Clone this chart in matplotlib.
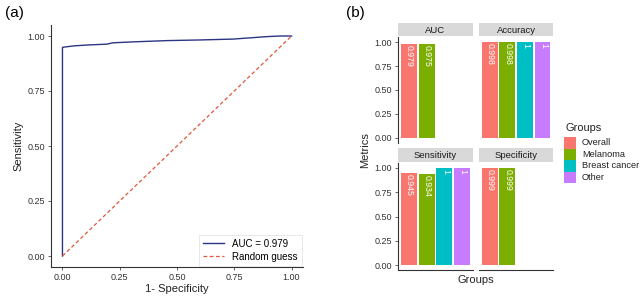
import matplotlib
matplotlib.use("Agg")
import matplotlib.pyplot as plt
import numpy as np

plt.rcParams['font.family'] = ['Liberation Sans', 'DejaVu Sans']

# ---------------- data ----------------
roc_fpr = [0.0, 0.0, 0.01, 0.05, 0.107, 0.194, 0.22, 0.30, 0.455, 0.60, 0.745, 0.89, 0.95, 1.0]
roc_tpr = [0.0, 0.948, 0.950, 0.955, 0.959, 0.963, 0.969, 0.973, 0.979, 0.982, 0.986, 0.997, 1.0, 1.0]
auc_label = "AUC = 0.979"
random_label = "Random guess"

groups = ["Overall", "Melanoma", "Breast cancer", "Other"]
group_colors = ["#F8766D", "#7CAE00", "#00BFC4", "#C77CFF"]
metrics = ["AUC", "Accuracy", "Sensitivity", "Specificity"]
auc_vals = [0.979, 0.975, None, None]
accuracy_vals = [0.998, 0.998, 1, 1]
sensitivity_vals = [0.945, 0.934, 1, 1]
specificity_vals = [0.999, 0.999, None, None]
metric_values = [auc_vals, accuracy_vals, sensitivity_vals, specificity_vals]
yticks = [0.0, 0.25, 0.5, 0.75, 1.0]

W, H = 643, 297
fig = plt.figure(figsize=(W / 100, H / 100), dpi=100)


def px_axes(left, top, right, bottom):
    return fig.add_axes([left / W, 1 - bottom / H, (right - left) / W, (bottom - top) / H])


axis_col = "#333333"
tick_col = "#4d4d4d"

# ---------------- panel (a) ----------------
ax = px_axes(51, 25, 303, 267)
ax.plot(roc_fpr, roc_tpr, color="#2b3583", lw=1.0, label=auc_label)
ax.plot([0, 1], [0, 1], color="#e0593c", lw=0.9, ls=(0, (3, 2)), label=random_label)
ax.set_xlim(-0.05, 1.05)
ax.set_ylim(-0.05, 1.05)
ax.set_xticks(yticks)
ax.set_yticks(yticks)
ax.set_xticklabels([f"{v:.2f}" for v in yticks])
ax.set_yticklabels([f"{v:.2f}" for v in yticks])
for s in ["top", "right"]:
    ax.spines[s].set_visible(False)
for s in ["left", "bottom"]:
    ax.spines[s].set_color(axis_col)
    ax.spines[s].set_linewidth(0.8)
ax.tick_params(labelsize=6.5, colors=tick_col, labelcolor="#333333", length=2.5, width=0.6, pad=2)
ax.set_xlabel("1- Specificity", fontsize=8, labelpad=1, color="#222222")
ax.set_ylabel("Sensitivity", fontsize=8, labelpad=3, color="#222222")
leg = ax.legend(loc="lower right", fontsize=7, frameon=True, fancybox=False,
                handlelength=2.2, borderpad=0.4, labelspacing=0.3,
                borderaxespad=0.15, bbox_to_anchor=(1.0, 0.0))
leg.get_frame().set_edgecolor("#dddddd")
leg.get_frame().set_linewidth(0.6)
fig.text(5 / W, 1 - 13 / H, "(a)", fontsize=11, va="center", ha="left")

# ---------------- panel (b) ----------------
fig.text(346 / W, 1 - 13 / H, "(b)", fontsize=11, va="center", ha="left")
cols = [(398, 473), (479, 553)]
rows = [((23, 36), (37.2, 142.8)), ((148, 161.5), (163, 270))]
xpos = np.arange(1, 5)
for i, metric in enumerate(metrics):
    r, c = divmod(i, 2)
    (sl, sr) = cols[c]
    (st, sb), (pt, pb) = rows[r]
    # strip
    sax = px_axes(sl, st, sr, sb)
    sax.set_facecolor("#d9d9d9")
    sax.set_xticks([])
    sax.set_yticks([])
    for s in sax.spines.values():
        s.set_visible(False)
    sax.text(0.5, 0.45, metric, transform=sax.transAxes, ha="center", va="center",
             fontsize=6.8, color="#1a1a1a")
    pax = px_axes(sl, pt, sr, pb)
    vals = metric_values[i]
    for j, v in enumerate(vals):
        if v is None:
            continue
        pax.bar(xpos[j], v, width=0.9, color=group_colors[j])
        lab = f"{v:g}"
        pax.text(xpos[j] + 0.05, v - 0.01, lab, rotation=-90, ha="center", va="top",
                 fontsize=6.3, color="white")
    pax.set_xlim(0.4, 4.6)
    pax.set_ylim(-0.05, 1.05)
    pax.set_xticks([])
    pax.spines["top"].set_visible(False)
    pax.spines["right"].set_visible(False)
    if c == 0:
        pax.set_yticks(yticks)
        pax.set_yticklabels([f"{v:.2f}" for v in yticks])
        pax.spines["left"].set_color(axis_col)
        pax.spines["left"].set_linewidth(0.8)
        pax.tick_params(axis="y", labelsize=6.5, colors=tick_col, labelcolor="#333333",
                        length=2.5, width=0.6, pad=2)
    else:
        pax.set_yticks([])
        pax.spines["left"].set_visible(False)
    if r == 1:
        pax.spines["bottom"].set_color(axis_col)
        pax.spines["bottom"].set_linewidth(0.8)
    else:
        pax.spines["bottom"].set_visible(False)

fig.text(365 / W, 1 - 150 / H, "Metrics", rotation=90, fontsize=8, ha="center", va="center",
         color="#222222")
fig.text(476 / W, 1 - 280 / H, "Groups", fontsize=8, ha="center", va="center", color="#222222")

# legend
fig.text(565 / W, 1 - 128 / H, "Groups", fontsize=7.9, ha="left", va="center", color="#222222")
for j, g in enumerate(groups):
    yc = 143 + j * 11.5
    fig.patches.append(plt.Rectangle((564 / W, 1 - (yc + 5.75) / H), 12 / W, 11.5 / H,
                                     transform=fig.transFigure, color=group_colors[j], lw=0))
    fig.text(582 / W, 1 - yc / H, g, fontsize=6.7, ha="left", va="center", color="#222222")

fig.savefig("out.png", dpi=100)
